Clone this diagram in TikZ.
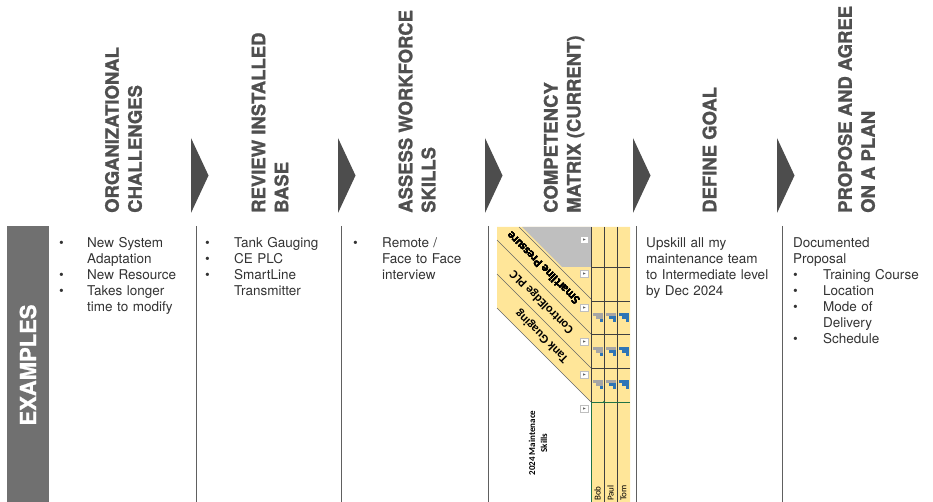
\documentclass[tikz,border=0pt]{standalone}
\usepackage{fontspec}
\setmainfont{TeX Gyre Heros}
\newfontfamily\hdrfont{texgyreheros-bold.otf}[FakeBold=1.2]
\newfontfamily\xlfont{Carlito}
\definecolor{hdr}{HTML}{4F4F4F}
\definecolor{body}{HTML}{333333}
\definecolor{chev}{HTML}{4D4D4D}
\definecolor{exbar}{HTML}{707070}
\definecolor{sep}{HTML}{606060}
\definecolor{xlyel}{HTML}{FFE699}
\definecolor{xlgray}{HTML}{BFBFBF}
\definecolor{xlblue}{HTML}{2E75B6}
\definecolor{xlsig}{HTML}{A6A6A6}
\definecolor{xlgreen}{HTML}{217346}
\newcommand{\bitem}[2][28pt]{\hangindent=#1\hangafter=1\noindent\makebox[#1][l]{\textbullet}#2\par}
\newcommand{\sigicon}[5]{%
  \fill[#3] (#1,#2) rectangle ++(10.5,2.7);
  \fill[#4] ({#1+3.5},{#2+3.1}) rectangle ++(7,2.7);
  \fill[#5] ({#1+7},{#2+6.2}) rectangle ++(3.5,2.7);}
\newcommand{\xlbtn}[1]{%
  \filldraw[fill=white,draw=black!25,line width=.4pt] (580,#1) rectangle ++(8,7);
  \fill[black!60] (583,{#1+2.3}) -- (585.6,{#1+3.5}) -- (583,{#1+4.7}) -- cycle;}
\begin{document}
\begin{tikzpicture}[x=1pt,y=-1pt,
  header/.style={rotate=90,anchor=west,align=left,inner sep=0pt,text=hdr,
    font=\hdrfont\fontsize{18.5}{23}\selectfont},
  chevron/.style={fill=chev},
  sepline/.style={draw=sep,line width=1pt},
  bodytext/.style={anchor=north west,inner sep=0pt,text width=134pt,align=left,
    text=body,font=\fontsize{13.5}{16}\selectfont},
  xlline/.style={draw=black!75,line width=.6pt},
  xldiag/.style={draw=black!60,line width=.5pt},
  xltext/.style={inner sep=0pt,font=\xlfont\bfseries\fontsize{12.5}{13}\selectfont,text=black}]
\path[use as bounding box] (0,0) rectangle (933,502);

% headers
\node[header] (h1) at (123.5,213) {ORGANIZATIONAL\\CHALLENGES};
\node[header] (h2) at (270,213) {REVIEW INSTALLED\\BASE};
\node[header] (h3) at (417,213) {ASSESS WORKFORCE\\SKILLS};
\node[header] (h4) at (564,213) {COMPETENCY\\MATRIX (CURRENT)};
\node[header] (h5) at (709.5,213) {DEFINE GOAL};
\node[header] (h6) at (856.5,213) {PROPOSE AND AGREE\\ON A PLAN};

% chevrons
\foreach \cx in {191,338,485,633,777}
  \fill[chevron] (\cx,138) -- ({\cx+17.5},175.5) -- (\cx,213) -- cycle;

% examples bar
\fill[exbar] (7,226) rectangle (49,502);
\node[rotate=90,inner sep=0pt,text=white,font=\hdrfont\fontsize{22}{22}\selectfont] (ex) at (28,365) {EXAMPLES};

% separators
\foreach \sx in {196,341,488,636,782}
  \draw[sepline] (\sx,226) -- (\sx,502);

% column texts
\node[bodytext] (t1) at (59,237) {%
  \bitem{New System\newline Adaptation}%
  \bitem{New Resource}%
  \bitem{Takes longer\newline time to modify}};
\node[bodytext] (t2) at (205,237) {%
  \bitem[29pt]{Tank Gauging}%
  \bitem[29pt]{CE PLC}%
  \bitem[29pt]{SmartLine\newline Transmitter}};
\node[bodytext] (t3) at (353,237) {%
  \bitem[29pt]{Remote /\newline Face to Face\newline interview}};
\node[bodytext] (t5) at (646,237) {Upskill all my\newline maintenance team\newline to Intermediate level\newline by Dec 2024\par};
\node[bodytext] (t6) at (793,237) {Documented\newline Proposal\par
  \bitem[30pt]{Training Course}%
  \bitem[30pt]{Location}%
  \bitem[30pt]{Mode of\newline Delivery}%
  \bitem[30pt]{Schedule}};

% competency matrix (rotated spreadsheet screenshot)
\fill[xlyel] (497,227) -- (630,227) -- (630,502) -- (591,502) -- (591,402) -- (497,308) -- cycle;
\fill[xlgray] (522,227) -- (591,227) -- (591,267) -- (562,267) -- cycle;
\draw[xldiag] (519,227) -- (591,299);
\draw[xldiag] (497,240) -- (591,334);
\draw[xldiag] (497,274) -- (591,368);
\draw[xldiag] (497,308) -- (591,402);
\draw[xlline] (591,227) -- (591,402);
\draw[xlline] (604,227) -- (604,502);
\draw[xlline] (617,227) -- (617,502);
\foreach \hy in {267,301,334,368,402}
  \draw[xlline] (591,\hy) -- (630,\hy);
\draw[draw=xlgreen,line width=.8pt] (591,502) -- (591,402) -- (630,402);
\fill[xlgreen] (604,402) circle (1.2);
\foreach \by in {236,270,304,338,371,405}
  \xlbtn{\by}
\foreach \iy in {313,347,380}{
  \sigicon{592.5}{\iy}{xlsig}{xlsig}{xlblue}
  \sigicon{605.5}{\iy}{xlsig}{xlblue}{xlblue}
  \sigicon{618.5}{\iy}{xlblue}{xlblue}{xlblue}}
\node[xltext,rotate=135] (m1) at (543,268.5) {Smartline Pressure};
\node[xltext,rotate=135] (m2) at (542,302) {ControlEdge PLC};
\node[xltext,rotate=135] (m3) at (542,336) {Tank Guaging};
\node[rotate=90,align=center,inner sep=0pt,font=\xlfont\bfseries\fontsize{9}{12}\selectfont] (sk) at (538,443) {2024 Maintenace\\Skills};
\node[rotate=90,anchor=west,inner sep=0pt,font=\xlfont\fontsize{9}{9}\selectfont] (bob) at (597.5,501) {Bob};
\node[rotate=90,anchor=west,inner sep=0pt,font=\xlfont\fontsize{9}{9}\selectfont] (paul) at (610.5,501) {Paul};
\node[rotate=90,anchor=west,inner sep=0pt,font=\xlfont\fontsize{9}{9}\selectfont] (tom) at (623.5,501) {Tom};
\end{tikzpicture}
\end{document}
